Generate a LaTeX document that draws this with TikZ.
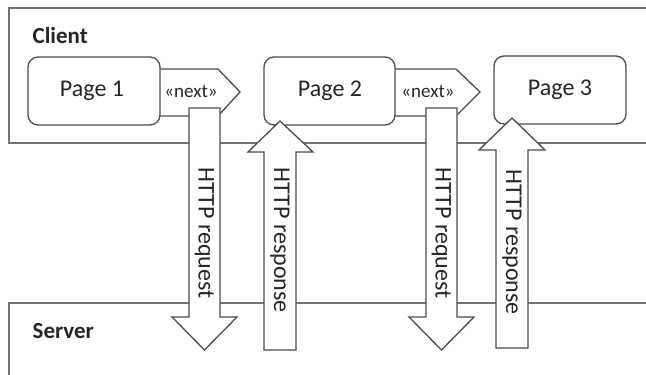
\documentclass[tikz,border=0pt]{standalone}
\usepackage{fontspec}
\setmainfont{Carlito}
\begin{document}
\begin{tikzpicture}[x=1pt,y=-1pt,
  line width=1.3pt,
  frame/.style={draw=black!55},
  pagebox/.style={draw=black!70,fill=white,rounded corners=10pt},
  blockarrow/.style={draw=black!70,fill=white,line join=miter},
  lbl/.style={text=black!85,inner sep=0pt,font=\fontsize{24}{24}\selectfont},
  small/.style={text=black!85,inner sep=0pt,font=\fontsize{19}{19}\selectfont},
  title/.style={text=black!85,inner sep=0pt,anchor=base west,font=\fontsize{23}{23}\selectfont\bfseries}]
\useasboundingbox (0,0) rectangle (646,375);
% client and server frames
\draw[frame] (650,8) -- (9,8) -- (9,143) -- (650,143);
\draw[frame] (650,303) -- (9,303) -- (9,380);
\node[title] (client) at (32,43) {Client};
\node[title] (server) at (32,338) {Server};
% next arrows
\draw[blockarrow] (155,69) -- (218,69) -- (240,92) -- (218,116) -- (155,116);
\draw[blockarrow] (390,69) -- (456,69) -- (480,92) -- (456,116) -- (390,116);
\node[small] (n1) at (191,92) {«next»};
\node[small] (n2) at (428,92) {«next»};
% pages
\draw[pagebox] (28,57) rectangle (160,125);
\draw[pagebox] (264,57) rectangle (395,125);
\draw[pagebox] (494,56) rectangle (626,124);
\node[lbl] (p1) at (92,91) {Page 1};
\node[lbl] (p2) at (330,91) {Page 2};
\node[lbl] (p3) at (560,90) {Page 3};
% HTTP arrows
\draw[blockarrow] (189,108) -- (220,108) -- (220,317) -- (237,317) -- (204.5,350) -- (172,317) -- (189,317) -- cycle;
\draw[blockarrow] (264,350) -- (296,350) -- (296,152) -- (313,152) -- (280,121) -- (248,152) -- (264,152) -- cycle;
\draw[blockarrow] (426,108) -- (457,108) -- (457,317) -- (474,317) -- (441.5,350) -- (409,317) -- (426,317) -- cycle;
\draw[blockarrow] (496,348) -- (528,348) -- (528,150) -- (545,150) -- (512,118) -- (479,150) -- (496,150) -- cycle;
\node[lbl,rotate=-90,anchor=west] (rq1) at (204.5,167) {HTTP request};
\node[lbl,rotate=-90,anchor=west] (rs1) at (280,167) {HTTP response};
\node[lbl,rotate=-90,anchor=west] (rq2) at (441.5,167) {HTTP request};
\node[lbl,rotate=-90,anchor=west] (rs2) at (512,169) {HTTP response};
\end{tikzpicture}
\end{document}
